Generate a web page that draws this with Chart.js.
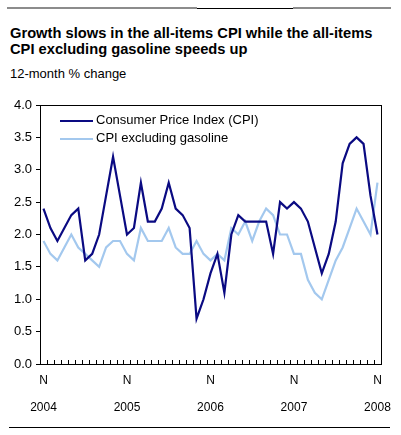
<!DOCTYPE html>
<html>
<head>
<meta charset="utf-8">
<script src="https://cdn.jsdelivr.net/npm/chart.js@4"></script>
<style>
  body { margin: 0; background: #fff; font-family: "Liberation Sans", Arial, sans-serif; }
  #wrap { position: relative; width: 401px; height: 435px; }
  #chartBox { position: absolute; left: 0; top: 0; width: 401px; height: 435px; }
  .rule { position: absolute; height: 0; }
  #title { position: absolute; left: 10px; top: 26px; font-size: 14.7px; font-weight: bold; line-height: 15.5px; color: #000; white-space: nowrap; }
  #subtitle { position: absolute; left: 10px; top: 66px; font-size: 13px; color: #000; white-space: nowrap; }
  .legLine { position: absolute; height: 2px; width: 33px; left: 60px; }
  .legText { position: absolute; left: 96px; font-size: 13px; line-height: 14px; color: #000; white-space: nowrap; }
</style>
</head>
<body>
<div id="wrap">
  <div class="rule" style="left:7px;top:7px;width:190px;border-top:2px solid #8c8c8c;"></div>
  <div class="rule" style="left:197px;top:8px;width:96px;border-top:1px solid #000;"></div>
  <div class="rule" style="left:293px;top:7px;width:98px;border-top:2px solid #8c8c8c;"></div>
  <div id="title">Growth slows in the all-items CPI while the all-items<br>CPI excluding gasoline speeds up</div>
  <div id="subtitle">12-month % change</div>
  <div id="chartBox"><canvas id="cpiChart"></canvas></div>
  <div class="legLine" style="top:120px;background:#0a0a82;"></div>
  <div class="legText" style="top:113px;">Consumer Price Index (CPI)</div>
  <div class="legLine" style="top:138px;background:#a3c8ee;"></div>
  <div class="legText" style="top:131px;">CPI excluding gasoline</div>
  <div class="rule" style="left:9px;top:427px;width:381px;border-top:1px solid #000;"></div>
</div>
<script>
// Nov 2004 .. Nov 2008, monthly
const months = ["N","D","J","F","M","A","M","J","J","A","S","O",
                "N","D","J","F","M","A","M","J","J","A","S","O",
                "N","D","J","F","M","A","M","J","J","A","S","O",
                "N","D","J","F","M","A","M","J","J","A","S","O","N"];
const yearLabels = { 0: "2004", 12: "2005", 24: "2006", 36: "2007", 48: "2008" };

const cpiAll = [2.4, 2.1, 1.9, 2.1, 2.3, 2.4, 1.6, 1.7, 2.0, 2.6, 3.2, 2.6,
                2.0, 2.1, 2.8, 2.2, 2.2, 2.4, 2.8, 2.4, 2.3, 2.1, 0.7, 1.0,
                1.4, 1.7, 1.1, 2.0, 2.3, 2.2, 2.2, 2.2, 2.2, 1.7, 2.5, 2.4,
                2.5, 2.4, 2.2, 1.8, 1.4, 1.7, 2.2, 3.1, 3.4, 3.5, 3.4, 2.6, 2.0];

const cpiExGas = [1.9, 1.7, 1.6, 1.8, 2.0, 1.8, 1.7, 1.6, 1.5, 1.8, 1.9, 1.9,
                  1.7, 1.6, 2.1, 1.9, 1.9, 1.9, 2.1, 1.8, 1.7, 1.7, 1.9, 1.7,
                  1.6, 1.7, 1.6, 2.1, 2.0, 2.2, 1.9, 2.2, 2.4, 2.3, 2.0, 2.0,
                  1.7, 1.7, 1.3, 1.1, 1.0, 1.3, 1.6, 1.8, 2.1, 2.4, 2.2, 2.0, 2.8];

const yTicks = [0, 0.5, 1, 1.5, 2, 2.5, 3, 3.5, 4];

// frame round the plot and small month ticks pointing up from the x axis
const framePlugin = {
  id: "frame",
  afterDraw(chart) {
    const { ctx, chartArea: a, scales } = chart;
    const x = scales.x;
    ctx.save();
    ctx.strokeStyle = "#000";
    ctx.lineWidth = 1;
    ctx.beginPath();
    for (let i = 0; i < months.length - 1; i++) {
      const px = Math.round((x.getPixelForValue(i) + x.getPixelForValue(i + 1)) / 2) + 0.5;
      ctx.moveTo(px, a.bottom);
      ctx.lineTo(px, a.bottom - 4);
    }
    ctx.stroke();
    ctx.strokeRect(Math.round(a.left) + 0.5, Math.round(a.top) + 0.5,
                   Math.round(a.right - a.left), Math.round(a.bottom - a.top));
    ctx.restore();
  }
};

new Chart(document.getElementById("cpiChart"), {
  type: "line",
  data: {
    labels: months,
    datasets: [
      {
        label: "Consumer Price Index (CPI)",
        data: cpiAll,
        borderColor: "#0a0a82",
        borderWidth: 2.2,
        pointRadius: 0,
        tension: 0
      },
      {
        label: "CPI excluding gasoline",
        data: cpiExGas,
        borderColor: "#a3c8ee",
        borderWidth: 2.2,
        pointRadius: 0,
        tension: 0
      }
    ]
  },
  options: {
    responsive: true,
    maintainAspectRatio: false,
    animation: false,
    events: [],
    layout: { padding: { left: 10, right: 19, top: 105, bottom: 11 } },
    plugins: {
      legend: { display: false },
      tooltip: { enabled: false }
    },
    scales: {
      x: {
        offset: true,
        grid: { display: false, drawTicks: false },
        border: { display: false },
        afterFit: scale => { scale.height = 60; },
        ticks: {
          autoSkip: false,
          maxRotation: 0,
          padding: 10,
          color: "#000",
          font: { family: "'Liberation Sans', Arial, sans-serif", size: 12, lineHeight: 1.12 },
          callback: (val, i) => yearLabels[i] ? [months[i], "", yearLabels[i]] : ""
        }
      },
      y: {
        min: 0,
        max: 4,
        afterFit: scale => { scale.width = 30; },
        afterBuildTicks: scale => { scale.ticks = yTicks.map(v => ({ value: v })); },
        grid: { drawOnChartArea: false, drawTicks: true, tickLength: 4, tickColor: "#000" },
        border: { display: false },
        ticks: {
          padding: 4,
          color: "#000",
          font: { family: "'Liberation Sans', Arial, sans-serif", size: 13 },
          callback: v => v.toFixed(1)
        }
      }
    }
  },
  plugins: [framePlugin]
});
</script>
</body>
</html>
